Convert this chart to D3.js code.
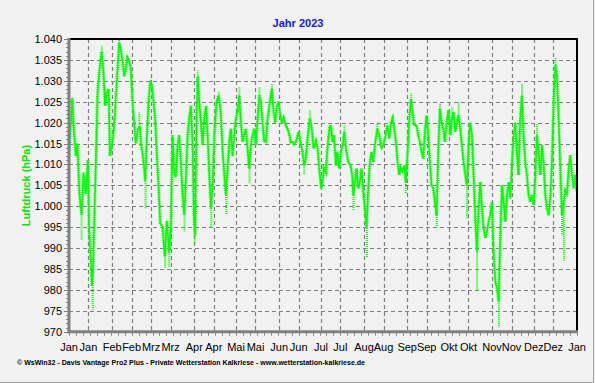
<!DOCTYPE html>
<html><head><meta charset="utf-8">
<script src="https://cdn.jsdelivr.net/npm/d3@7"></script>
<style>
html,body{margin:0;padding:0;background:#f2f2f2;}
svg{display:block;font-family:"Liberation Sans",Arial,sans-serif;}
</style></head>
<body>
<svg id="chart" width="595" height="383"></svg>
<script>
// ---- data (day of year 2023, air pressure hPa) ----
const days = [0,2.3,3.5,5,6,7.5,9,10.5,12,13.6,14.5,15.5,16.5,17.3,18,19.4,20.5,21.7,23.4,24.6,26,27,28.5,29.4,30.6,31.8,33,34.9,36,37,38.5,39.7,40.8,42,43,44.4,45.6,46.8,48,49.5,51,51.7,53.3,54.8,56,57.2,58.4,59.5,60.7,61.9,63,64.3,65.5,67.2,68.9,70.3,72,73.2,74.4,75.6,76.8,78,79.2,80.4,81.6,82.8,84,85.2,86.4,87.6,88.8,89.8,90.6,91.7,92.5,93.6,94.8,96,97.2,98.4,99.6,100.8,102,103.2,104.4,106,107.5,109,110.4,111.6,112.7,114,115.1,116.3,117.5,118.7,119.9,121,122.3,123.5,124.7,125.9,127,128.3,129.5,130.7,131.9,133.1,134.3,135.5,136.7,137.9,139,140.3,141.5,142.7,144.3,145.7,147,148.2,149.4,150.6,151.8,153,154.2,155.8,157.8,159.4,160.6,161.8,163,165,166.2,167.4,169,170.2,171.4,173,174.5,175.7,177.4,178.6,179.8,181.2,182.2,183.2,184.6,185.5,187,188,189.4,190.3,191.8,192.7,194.2,195.4,196.6,197.8,199,200.6,202.3,203.5,204.2,205.4,206.6,207.8,209,210.2,211.4,212.6,213.8,215,216.2,217.4,218.6,219.8,221.5,222.9,224.6,225.8,227.5,228.7,230.1,231.3,232.5,233.7,234.9,236.1,237.3,238.5,239.7,240.9,242,243.3,244.5,245.7,246.9,248,249.7,250.9,252.1,253.3,254.5,255.7,256.9,258.1,259.3,260.5,261.7,262.9,264.1,265.3,266.5,267.7,268.9,270.1,271.3,272.7,274,275.2,276.4,277.5,278.7,279.9,281.1,282.3,283.5,284.7,285.9,287.1,288.3,289.5,290.7,291.9,293.1,294.3,295.5,296.7,297.9,299.1,300.3,301.5,302.7,303.9,305,306.3,307.5,308.7,309.9,311.1,312.3,313.5,314.7,315.9,317.1,318.3,319.5,320.7,321.9,323,324.2,325.4,326.6,327.8,329,330.2,331.4,332.6,333.8,335,336.2,337.4,338.6,339.8,341,342.2,343.4,344.6,345.8,347,348.2,349.4,350.6,351.8,353,354.2,355.4,356.6,357.8,359,360.2,361.4,362.6,363.8,364.7];
const pressure = [1012,1025.7,1018,1012,1015,1003,998,1008,1003,1011,994,988,981,985,995,1012,1027,1032,1037,1033,1024,1027,1028,1012,1014,1017,1022,1033,1039,1038,1034.5,1031,1033,1035.5,1035,1033,1025,1020,1015,1018.5,1019,1015,1011.5,1006,1017,1025,1029.7,1029,1025,1021,1013,1005,996,995,988,996.5,989,995,1017,1008,1007,1014.5,1017,1010.6,1002.7,998,1006.6,1017,1021,1024,1014.5,997,993,1022,1031,1025,1020,1014.6,1021,1024,1017,1007.5,999.5,1005,1017,1025,1026.5,1022.5,1013,1007.5,1002.7,1009,1015.4,1018.5,1012,1017,1021,1022.5,1026.5,1020,1015.4,1017,1018.5,1013.8,1009,1014.6,1017,1018.5,1014.6,1021,1026.5,1025,1020,1015.4,1015.4,1021,1025,1028,1022.5,1020,1024,1025,1021.7,1020,1021,1019.4,1017.8,1015.4,1015.4,1014.6,1015.4,1017.8,1015.4,1013.8,1009.8,1011.4,1016.2,1021,1018.5,1013.8,1015.4,1013.8,1009,1004.3,1005.8,1009,1008.2,1013,1018.5,1019.4,1015.4,1017,1009.8,1013,1009,1013,1014.6,1017.8,1013.8,1010.6,1009.8,1007.5,1002.7,1005.8,1009,1004.3,1005.8,1009,1003.5,999.5,994.8,1004.3,1010.6,1013,1010.6,1014.6,1018.5,1017,1013.8,1014.6,1017,1019.4,1016.2,1020,1021,1018.5,1015.4,1010.6,1007.5,1009,1008.2,1009.8,1005.8,1013,1021,1025.5,1022.5,1019.4,1019.4,1017,1015.4,1013,1011.4,1017.8,1021.7,1017,1010.6,1005,1004.3,1001.1,997.9,1013,1023.3,1020,1018.5,1015.4,1020,1023,1017,1021,1022.5,1017.8,1020,1021.7,1018.5,1014.6,1010.6,1007.5,1005,1014.6,1020,1017,1007.5,997.1,989.2,999.5,1005.8,999.5,994.8,992.4,994,996.3,997.9,1001,989.9,982,980.4,977.3,993.2,1005,1001,996.3,1002.7,1005.8,1001.9,1010.6,1017,1020,1012.2,1007.5,1021,1026.5,1017,1010.6,1007.5,1002.7,1001.1,1002.7,1000.3,1006.6,1017,1013,1007.5,1014.6,1010.6,1002.7,999.5,997.9,1001.9,1010.6,1025,1033.7,1031.3,1021,1009,997.9,1001.1,1003.5,1002.7,1009,1012.2,1007.5,1004.3,1007.5,1003.5];
// dotted extremes (short-term peaks/dips)
const spikeDays   = [9,17,55,69,72,83,90.3,102.2,113,129.7,169,204.4,214,242,264.2,286,293.3,308.9,354.3,355.6,2.5,23.6,36,50.5,59,92.6,107.7,122.4,136.8,145.8,173.1,197.9,221.6,245.8,266.6,275.3,280,325.5,336.3,349.5];
const spikeValues = [992,975.3,999.5,985.2,985.5,994,991,994.8,998,1005.5,1007.5,999,987.6,1003,995,997,979.7,971,993,987,1026,1038.5,1040,1022.5,1030.5,1032.5,1027.5,1028.5,1028.5,1029.3,1023,1019.4,1020,1027,1024.5,1023.8,1025,1029.3,1019.8,1035.6];
const yTicks = [970,975,980,985,990,995,1000,1005,1010,1015,1020,1025,1030,1035,1040];
const monthNames = ["Jan","Feb","Mrz","Apr","Mai","Jun","Jul","Aug","Sep","Okt","Nov","Dez"];
const title = "Jahr 2023";
const yLabel = "Luftdruck (hPa)";
const footer = "\u00a9 WsWin32  -  Davis Vantage Pro2 Plus  -  Private Wetterstation Kalkriese - www.wetterstation-kalkriese.de";

// ---- layout ----
const svg = d3.select("#chart");
const L = 69, R = 577, T = 39, B = 331.7;
const start = new Date(2023,0,1);
const x = d3.scaleLinear().domain([0,365]).range([L,R]);
const y = d3.scaleLinear().domain([970,1040]).range([B,T]);

const xTickDates = [];
for (let m=0;m<12;m++){ xTickDates.push({d:new Date(2023,m,1),n:monthNames[m]}); xTickDates.push({d:new Date(2023,m,15),n:monthNames[m]}); }
xTickDates.push({d:new Date(2024,0,1),n:"Jan"});
xTickDates.forEach(t=> t.day = d3.timeDay.count(start,t.d));

// outer frame
svg.append("line").attr("x1",593.5).attr("x2",593.5).attr("y1",0).attr("y2",382.5).attr("stroke","#a0a0a0");
svg.append("line").attr("x1",0).attr("x2",594).attr("y1",382.5).attr("y2",382.5).attr("stroke","#a0a0a0");

// gridlines
const grid = svg.append("g").attr("stroke","#808080").attr("stroke-dasharray","4,3").attr("stroke-width",1.2);
yTicks.slice(1,-1).forEach(v=> grid.append("line").attr("x1",L).attr("x2",R).attr("y1",Math.round(y(v))+0.5).attr("y2",Math.round(y(v))+0.5));
xTickDates.slice(1,-1).forEach(t=> grid.append("line").attr("y1",T).attr("y2",B).attr("x1",Math.round(x(t.day))+0.5).attr("x2",Math.round(x(t.day))+0.5));

// data
const line = d3.line().x((d,i)=>x(days[i])).y(d=>y(d));
svg.append("clipPath").attr("id","c").append("rect").attr("x",L).attr("y",T-1).attr("width",R-L).attr("height",B-T+1);
const plot = svg.append("g").attr("clip-path","url(#c)");
const bis = d3.bisector(d=>d).center;
spikeDays.forEach((sd,i)=>{
  const k = bis(days, sd);
  plot.append("line").attr("x1",x(sd)).attr("x2",x(sd)).attr("y1",y(pressure[k])).attr("y2",y(spikeValues[i]))
    .attr("stroke","#00ff00").attr("stroke-width",2).attr("stroke-dasharray","1,1");
});
// dotted fringe + solid core
plot.append("path").datum(pressure).attr("d",line).attr("fill","none").attr("stroke","#00ff00").attr("stroke-width",3.2).attr("stroke-dasharray","1,1.2").attr("opacity",0.9);
plot.append("path").datum(pressure).attr("d",line).attr("fill","none").attr("stroke","#00ff00").attr("stroke-width",1.5);

// frame: top and right black, left and bottom gray axes
svg.append("line").attr("x1",L).attr("x2",R+1).attr("y1",T).attr("y2",T).attr("stroke","#000").attr("stroke-width",2);
svg.append("line").attr("x1",R).attr("x2",R).attr("y1",T).attr("y2",B).attr("stroke","#000").attr("stroke-width",2);
svg.append("line").attr("x1",L).attr("x2",L).attr("y1",T-1).attr("y2",B+1.5).attr("stroke","#808080").attr("stroke-width",3);
svg.append("line").attr("x1",L-1.5).attr("x2",R+1).attr("y1",B).attr("y2",B).attr("stroke","#808080").attr("stroke-width",3);

// y axis
const fmt = v => v>=1000 ? d3.format(".3f")(v/1000) : String(v);
const ya = svg.append("g");
d3.range(970,1041,1).forEach(v=> ya.append("line").attr("x1",L-(v%5===0?5:3)).attr("x2",L).attr("y1",Math.round(y(v))+0.5).attr("y2",Math.round(y(v))+0.5).attr("stroke","#808080"));
yTicks.forEach(v=> ya.append("text").attr("x",62).attr("y",y(v)+4).attr("text-anchor","end").attr("font-size",11).attr("fill","#000").text(fmt(v)));

// x axis
const xa = svg.append("g");
d3.range(0,366,5).forEach(dd=> xa.append("line").attr("x1",Math.round(x(dd))+0.5).attr("x2",Math.round(x(dd))+0.5).attr("y1",B+1.5).attr("y2",B+4).attr("stroke","#808080"));
xTickDates.forEach(t=> xa.append("text").attr("x",x(t.day)).attr("y",351).attr("text-anchor","middle").attr("font-size",11).attr("fill","#000").text(t.n));

// title, y label, footer
svg.append("text").attr("x",298).attr("y",27).attr("text-anchor","middle").attr("font-size",11).attr("font-weight","bold").attr("fill","#1414ff").text(title);
svg.append("text").attr("transform","translate(30,185.5) rotate(-90)").attr("text-anchor","middle").attr("font-size",11).attr("font-weight","bold").attr("fill","#00e600").text(yLabel);
svg.append("text").attr("x",17).attr("y",365).attr("font-size",7).attr("font-weight","bold").attr("fill","#000").attr("textLength",348).attr("lengthAdjust","spacingAndGlyphs").text(footer);
</script>
</body></html>
